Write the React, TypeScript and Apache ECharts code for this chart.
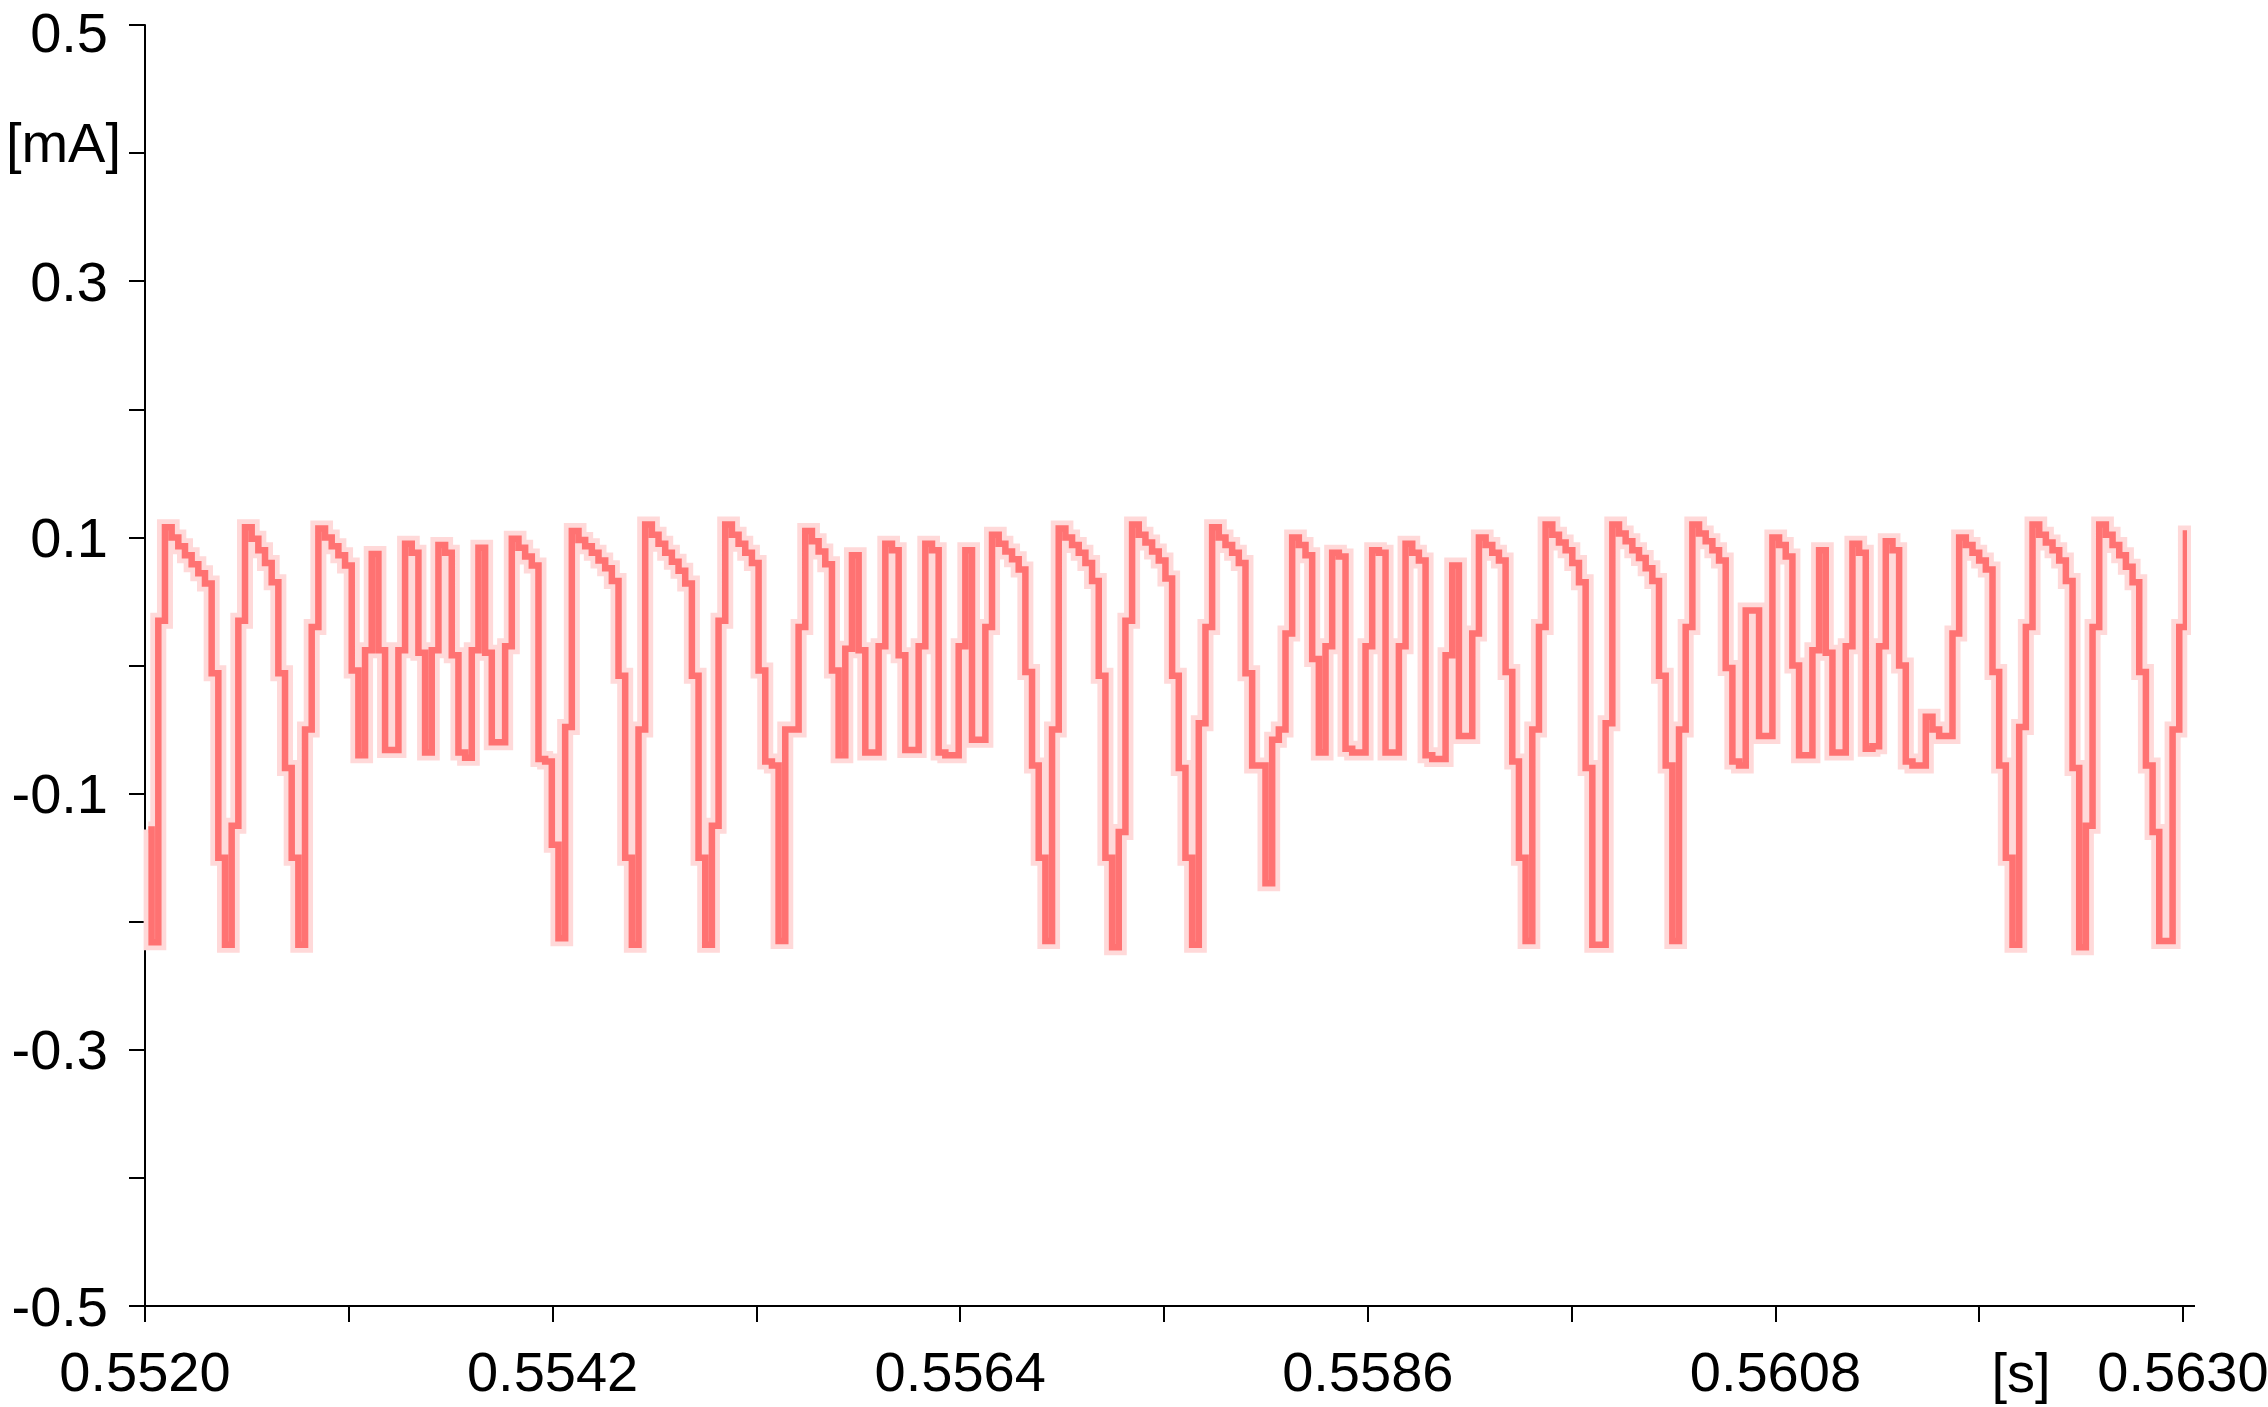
import React, { useEffect, useRef } from "react";
import * as echarts from "echarts";

// ---- axis description ----
const AXIS_START_S = 0.552; // left end of the time axis
const AXIS_SPAN_US = 11000; // 0.5520 .. 0.5630 s, in microseconds from start
const TICK_STEP_US = 1100;
const xTickLabels = ["0.5520", "0.5542", "0.5564", "0.5586", "0.5608", "0.5630"];
const xUnitLabel = "[s]";
const yTickLabels = ["-0.5", "-0.3", "-0.1", "0.1", "0.3", "0.5"];
const yUnitLabel = "[mA]"; // sits on the 0.4 tick
const Y_MIN = -0.5;
const Y_MAX = 0.5;
const Y_STEP = 0.1;

// ---- sampled signal ----
const FIRST_SAMPLE_S = 0.5520178;
const SAMPLE_PERIOD_S = 0.000036;
// current in mA, one value per sample
const currentMA = [
  -0.128, -0.216, 0.035, 0.108, 0.1, 0.093, 0.086, 0.079, 0.072, 0.064,
  -0.006, -0.15, -0.218, -0.125, 0.035, 0.108, 0.099, 0.09, 0.08, 0.065,
  -0.006, -0.08, -0.15, -0.218, -0.05, 0.03, 0.107, 0.1, 0.093, 0.086,
  0.078, -0.004, -0.07, 0.012, 0.087, 0.012, -0.066, -0.066, 0.012, 0.095,
  0.088, 0.01, -0.068, 0.012, 0.094, 0.088, 0.008, -0.068, -0.072, 0.012,
  0.092, 0.01, -0.06, -0.06, 0.015, 0.099, 0.092, 0.085, 0.078, -0.073,
  -0.075, -0.14, -0.213, -0.048, 0.105, 0.098, 0.093, 0.088, 0.082, 0.076,
  0.066, -0.008, -0.15, -0.218, -0.05, 0.11, 0.102, 0.095, 0.088, 0.081,
  0.074, 0.064, -0.008, -0.15, -0.218, -0.125, 0.035, 0.11, 0.102, 0.095,
  0.088, 0.08, -0.004, -0.075, -0.078, -0.215, -0.05, -0.05, 0.03, 0.105,
  0.097, 0.089, 0.079, -0.004, -0.07, 0.013, 0.086, 0.012, -0.068, -0.068,
  0.015, 0.095, 0.09, 0.008, -0.066, -0.066, 0.015, 0.095, 0.09, -0.068,
  -0.07, -0.07, 0.015, 0.09, -0.058, -0.058, 0.03, 0.102, 0.095, 0.089,
  0.083, 0.075, -0.005, -0.078, -0.15, -0.215, -0.05, 0.107, 0.1, 0.094,
  0.088, 0.08, 0.066, -0.008, -0.15, -0.22, -0.13, 0.035, 0.11, 0.102,
  0.096, 0.089, 0.082, 0.068, -0.008, -0.08, -0.15, -0.218, -0.045, 0.03,
  0.108, 0.1, 0.094, 0.088, 0.08, -0.006, -0.078, -0.078, -0.17, -0.058,
  -0.05, 0.025, 0.1, 0.094, 0.086, 0.005, -0.068, 0.015, 0.088, 0.085,
  -0.065, -0.068, -0.068, 0.015, 0.09, 0.088, -0.068, -0.068, 0.015, 0.095,
  0.088, 0.082, -0.07, -0.073, -0.073, 0.008, 0.078, -0.055, -0.055, 0.025,
  0.1, 0.094, 0.088, 0.082, -0.005, -0.075, -0.15, -0.215, -0.05, 0.03,
  0.11, 0.102, 0.096, 0.09, 0.08, 0.065, -0.08, -0.218, -0.218, -0.045,
  0.11, 0.103, 0.097, 0.09, 0.084, 0.076, 0.066, -0.008, -0.078, -0.215,
  -0.05, 0.03, 0.11, 0.103, 0.097, 0.09, 0.082, -0.002, -0.075, -0.078,
  0.043, 0.043, -0.055, -0.055, 0.1, 0.094, 0.085, 0.0, -0.07, -0.07,
  0.012, 0.09, 0.01, -0.068, -0.068, 0.015, 0.095, 0.088, -0.065, -0.063,
  0.015, 0.097, 0.09, 0.0, -0.075, -0.078, -0.078, -0.04, -0.05, -0.055,
  -0.055, 0.025, 0.1, 0.094, 0.088, 0.082, 0.075, -0.005, -0.078, -0.15,
  -0.218, -0.048, 0.03, 0.11, 0.102, 0.096, 0.09, 0.082, 0.066, -0.08,
  -0.22, -0.125, 0.03, 0.11, 0.102, 0.094, 0.086, 0.077, 0.065, -0.005,
  -0.078, -0.13, -0.215, -0.215, -0.05, 0.03, 0.103, 0.095, 0.088,
];

const FONT = '"Liberation Sans", Arial, Helvetica, sans-serif';

export default function App() {
  const ref = useRef<HTMLDivElement>(null);

  useEffect(() => {
    if (!ref.current) return;
    const chart = echarts.init(ref.current, undefined, { renderer: "svg" });

    const data = currentMA.map((v, i) => [
      (FIRST_SAMPLE_S + i * SAMPLE_PERIOD_S - AXIS_START_S) * 1e6,
      v,
    ]);

    const axisLine = { show: true, onZero: false, lineStyle: { color: "#000", width: 2 } };
    const axisTick = { show: true, inside: false, length: 16, lineStyle: { color: "#000", width: 2 } };
    const labelText = { fontSize: 56, lineHeight: 44, fontFamily: FONT, color: "#000" };

    chart.setOption({
      animation: false,
      backgroundColor: "#ffffff",
      grid: {
        left: 145,
        right: 85,
        top: 25,
        bottom: 101,
        containLabel: false,
        outerBoundsMode: "none",
      },
      xAxis: {
        type: "value",
        min: 0,
        max: AXIS_SPAN_US,
        interval: TICK_STEP_US,
        axisLine,
        axisTick,
        splitLine: { show: false },
        axisLabel: {
          show: true,
          margin: 41,
          color: "#000",
          fontSize: 56,
          lineHeight: 48,
          fontFamily: FONT,
          hideOverlap: false,
          showMinLabel: true,
          showMaxLabel: true,
          formatter: (v: number) => {
            const k = Math.round(v / TICK_STEP_US);
            return k % 2 === 0 ? xTickLabels[k / 2] ?? "" : "";
          },
        },
      },
      yAxis: {
        type: "value",
        min: Y_MIN,
        max: Y_MAX,
        interval: Y_STEP,
        axisLine,
        axisTick,
        splitLine: { show: false },
        axisLabel: {
          show: true,
          margin: 24,
          color: "#000",
          fontSize: 56,
          lineHeight: 44,
          fontFamily: FONT,
          showMinLabel: true,
          showMaxLabel: true,
          formatter: (v: number) => {
            const r = Math.round(v / Y_STEP);
            if (r === 4) return `{u|${yUnitLabel}}`;
            const s = (r / 10).toFixed(1);
            if (!yTickLabels.includes(s)) return "";
            return r === 5 ? `{t|${s}}` : `{n|${s}}`;
          },
          rich: {
            n: { ...labelText, padding: [0, 13, 0, 0] },
            t: { ...labelText, padding: [14, 13, 0, 0] },
            u: { ...labelText, padding: [0, 0, 22, 0] },
          },
        },
      },
      series: [
        {
          type: "line",
          data,
          step: "middle",
          symbol: "none",
          showSymbol: false,
          clip: false,
          silent: true,
          z: 1,
          lineStyle: { color: "#ffd9d9", width: 16, join: "miter" },
        },
        {
          type: "line",
          data,
          step: "middle",
          symbol: "none",
          showSymbol: false,
          clip: false,
          silent: true,
          z: 2,
          lineStyle: { color: "#ff7272", width: 6.5, join: "miter" },
        },
      ],
      graphic: [
        {
          type: "text",
          x: 2021,
          y: 1372,
          style: {
            text: xUnitLabel,
            fill: "#000",
            font: `56px ${FONT}`,
            align: "center",
            verticalAlign: "middle",
          },
        },
        {
          type: "line",
          shape: { x1: 2183, y1: 1306, x2: 2195, y2: 1306 },
          style: { stroke: "#000", lineWidth: 2 },
        },
      ],
    });

    return () => chart.dispose();
  }, []);

  return (
    <div
      ref={ref}
      style={{ position: "absolute", left: 0, top: 0, width: 2268, height: 1407 }}
    />
  );
}
